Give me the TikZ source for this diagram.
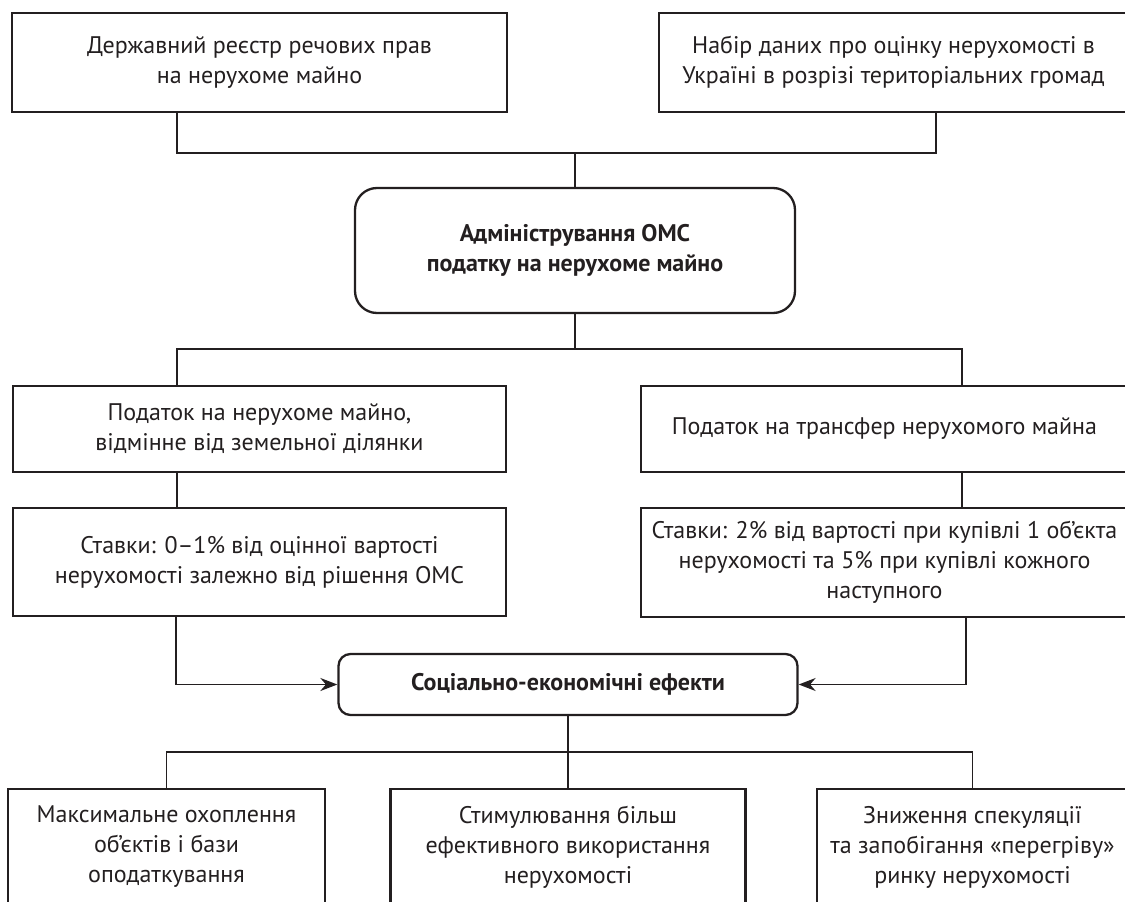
\documentclass[tikz,border=0pt]{standalone}
\usepackage{fontspec}
\setmainfont{PT Sans}
\usepackage{tikz}
\usetikzlibrary{arrows.meta,positioning,calc}
\definecolor{ink}{HTML}{231F20}

\begin{document}
\begin{tikzpicture}[
        x=1pt, y=-1pt,
        every node/.style={text=ink, font=\fontsize{24}{30}\selectfont},
        box/.style={draw=ink, line width=2.3pt, align=center, inner sep=0pt},
        hub/.style={box, rounded corners=22pt, font=\fontsize{24}{30}\selectfont\bfseries},
        link/.style={draw=ink, line width=1.5pt},
        arrow/.style={link, -{Stealth[length=17pt,width=13pt]}}
    ]
    \useasboundingbox (0,0) rectangle (1125,902);
    \clip (0,0) rectangle (1125,902);
    % Джерела даних
    \node[box, minimum width=495pt, minimum height=99pt] (reg) at (259.5,62.5) {Державний реєстр речових прав\\на нерухоме майно};
    \node[box, minimum width=469pt, minimum height=99pt] (data) at (893.5,62.5) {Набір даних про оцінку нерухомості в\\Україні в розрізі територіальних громад};
    % Центр
    \node[hub, minimum width=440pt, minimum height=125pt] (admin) at (575,250.5) {Адміністрування ОМС\\податку на нерухоме майно};
    % Податки
    \node[box, minimum width=493pt, minimum height=86pt] (land) at (259.5,429) {Податок на нерухоме майно,\\відмінне від земельної ділянки};
    \node[box, minimum width=487pt, minimum height=86pt] (transfer) at (884.5,429) {Податок на трансфер нерухомого майна};
    \node[box, minimum width=493pt, minimum height=108pt] (rateL) at (259.5,562) {Ставки: 0–1\% від оцінної вартості\\нерухомості залежно від рішення ОМС};
    \node[box, minimum width=487pt, minimum height=109pt] (rateR) at (884.5,562.5) {Ставки: 2\% від вартості при купівлі 1 об’єкта\\нерухомості та 5\% при купівлі кожного\\наступного};
    % Ефекти
    \node[hub, rounded corners=12pt, minimum width=459pt, minimum height=61pt] (effects) at (568,684.5) {Соціально-економічні ефекти};
    \node[box, minimum width=317pt, minimum height=116pt] (cover) at (166.5,847) {Максимальне охоплення\\об’єктів і бази\\оподаткування};
    \node[box, minimum width=355pt, minimum height=116pt] (use) at (568,847) {Стимулювання більш\\ефективного використання\\нерухомості};
    \node[box, minimum width=311pt, minimum height=116pt] (spec) at (972.5,847) {Зниження спекуляції\\та запобігання «перегріву»\\ринку нерухомості};
    % Зв'язки
    \coordinate (busTop) at (575,153);
    \coordinate (busMid) at (575,349);
    \coordinate (busLow) at (568,752);
    \draw[link] ([xshift=-82.5pt]reg.south) |- (busTop) -| ([xshift=42.5pt]data.south);
    \draw[link] (busTop) -- (admin.north);
    \draw[link] (admin.south) -- (busMid);
    \draw[link] ([xshift=-82.5pt]land.north) |- (busMid) -| ([xshift=77.5pt]transfer.north);
    \draw[link] ([xshift=-82.5pt]land.south) -- ([xshift=-82.5pt]rateL.north);
    \draw[link] ([xshift=77.5pt]transfer.south) -- ([xshift=77.5pt]rateR.north);
    \draw[arrow] ([xshift=-83.5pt]rateL.south) |- (effects.west);
    \draw[arrow] ([xshift=81.5pt]rateR.south) |- (effects.east);
    \draw[link] (effects.south) -- (use.north);
    \draw[link] (cover.north) |- (busLow) -| (spec.north);
\end{tikzpicture}
\end{document}
